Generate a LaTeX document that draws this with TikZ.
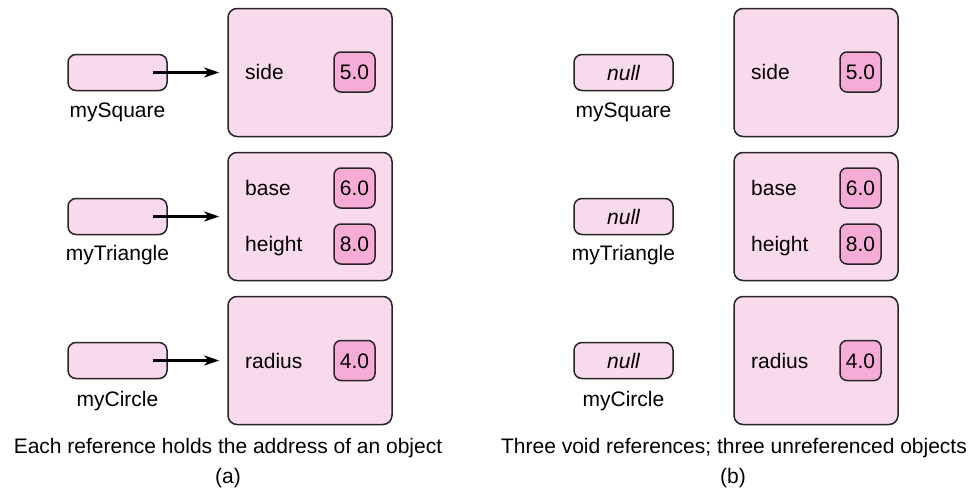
\documentclass[tikz,border=0pt]{standalone}
\usepackage{fontspec}
\setmainfont{Liberation Sans}
\usetikzlibrary{arrows.meta}
\definecolor{lpink}{RGB}{249,217,236}
\definecolor{dpink}{RGB}{246,172,215}
\definecolor{edge}{RGB}{40,36,40}
\begin{document}
\begin{tikzpicture}[x=1pt,y=-1pt,
  every node/.style={font=\fontsize{21}{25}\selectfont, inner sep=0pt},
  txt/.style={text height=15.2pt, text depth=0pt},
  obj/.style={draw=edge, fill=lpink, rounded corners=9pt, line width=1.5pt,
              minimum width=164pt, minimum height=128pt},
  refbox/.style={draw=edge, fill=lpink, rounded corners=8pt, line width=1.5pt,
              minimum width=99pt, minimum height=36pt, txt},
  val/.style={draw=edge, fill=dpink, rounded corners=7pt, line width=1.5pt,
              minimum width=41pt, minimum height=40pt, txt},
  ptr/.style={-{Stealth[length=15pt,width=10pt,inset=4pt]}, line width=2.4pt}]
\useasboundingbox (0,0) rectangle (976,490);

\foreach \p/\dx/\nv in {a/0/{}, b/506/{\itshape null}}{
  \begin{scope}[xshift=\dx pt]
    % objects
    \node[obj] (osq\p) at (310,72.5) {};
    \node[obj] (otr\p) at (310,216.5) {};
    \node[obj] (oci\p) at (310,360.5) {};
    % fields
    \node[txt, anchor=west] (side\p) at (245,72) {side};
    \node[val] (vside\p) at (354.5,72) {5.0};
    \node[txt, anchor=west] (base\p) at (245,188) {base};
    \node[val] (vbase\p) at (354.5,188) {6.0};
    \node[txt, anchor=west] (height\p) at (245,244) {height};
    \node[val] (vheight\p) at (354.5,244) {8.0};
    \node[txt, anchor=west] (radius\p) at (245,360.5) {radius};
    \node[val] (vradius\p) at (354.5,360.5) {4.0};
    % references
    \node[refbox] (rsq\p) at (117.5,72.5) {\nv};
    \node[refbox] (rtr\p) at (117.5,216.5) {\nv};
    \node[refbox] (rci\p) at (117.5,360.5) {\nv};
    \node[txt] (lsq\p) at (117.5,110) {mySquare};
    \node[txt] (ltr\p) at (117.5,253) {myTriangle};
    \node[txt] (lci\p) at (117.5,398.5) {myCircle};
  \end{scope}
}

\draw[ptr] ([xshift=35.5pt]rsqa.center) -- ([xshift=-8pt]osqa.west|-rsqa.center);
\draw[ptr] ([xshift=35.5pt]rtra.center) -- ([xshift=-8pt]otra.west|-rtra.center);
\draw[ptr] ([xshift=35.5pt]rcia.center) -- ([xshift=-8pt]ocia.west|-rcia.center);

\node[txt] (capa) at (228,446) {Each reference holds the address of an object};
\node[txt] (capb) at (734,446) {Three void references; three unreferenced objects};
\node[txt] (taga) at (228,476) {(a)};
\node[txt] (tagb) at (733,476) {(b)};
\end{tikzpicture}
\end{document}
